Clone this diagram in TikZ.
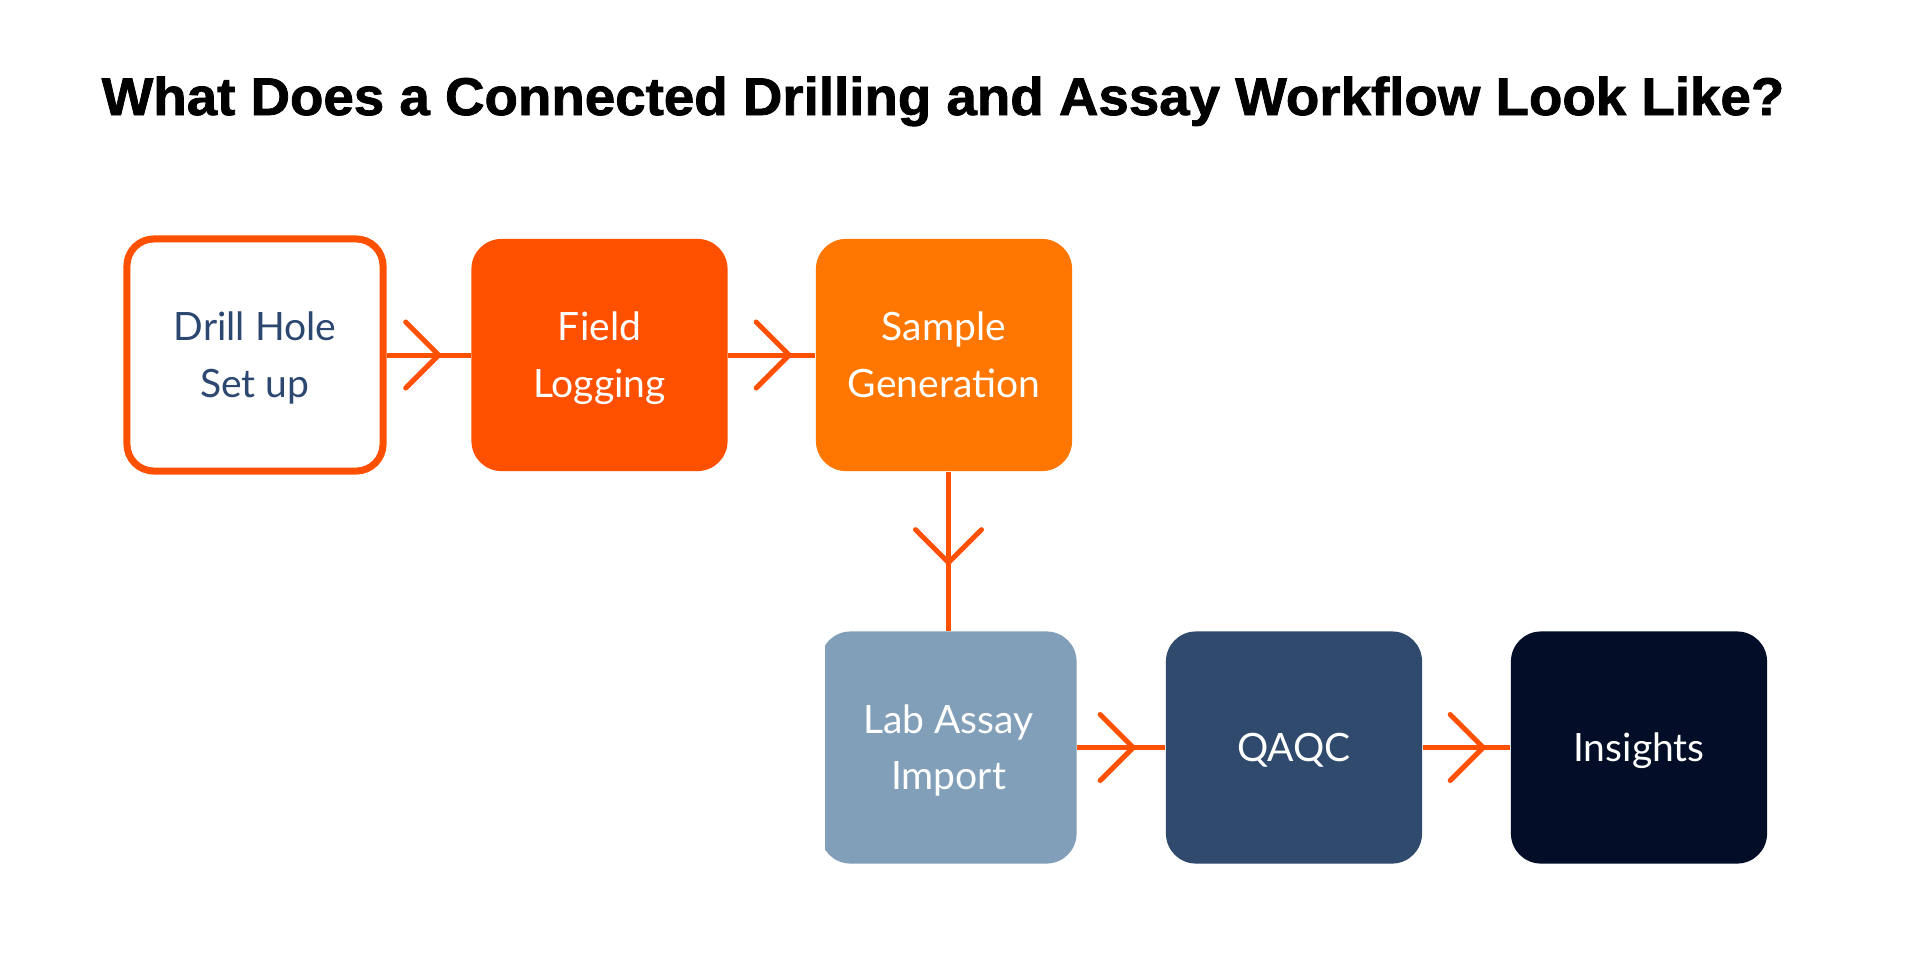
\documentclass[tikz,border=0pt]{standalone}
\usepackage{fontspec}
\setmainfont{Lato}
\newfontfamily\titlefont[BoldFeatures={FakeBold=1.5}]{Liberation Sans}
\usetikzlibrary{decorations.markings}

\definecolor{brandorange}{HTML}{FF5000}
\definecolor{amber}{HTML}{FF7700}
\definecolor{steel}{HTML}{819FB8}
\definecolor{navy}{HTML}{2F4A6D}
\definecolor{ink}{HTML}{020D27}
\definecolor{labeltext}{HTML}{2C4770}

% invisible strut: keeps each label line centred on its capital letters
\newcommand\capstrut{\rule[-0.25em]{0pt}{1.2165em}}

\begin{document}
\begin{tikzpicture}[x=0.01cm, y=-0.01cm,
  box/.style={rectangle, rounded corners=3mm, minimum width=2.56cm,
    minimum height=2.32cm, inner sep=0pt, align=center, text=white,
    font=\fontsize{11.1}{16.2}\selectfont},
  flow/.style={draw=brandorange, line width=0.05cm},
  tipat/.style={postaction={decorate, decoration={markings,
    mark=at position -#1 with {\draw[brandorange, line width=0.05cm,
      line cap=round, line join=round]
      (-0.33cm,0.33cm) -- (0,0) -- (-0.33cm,-0.33cm);}}}}
]
\useasboundingbox (0,0) rectangle (1920,960);
\fill[white] (0,0) rectangle (1920,960);

% heading
\node[anchor=base west, inner sep=0pt,
  font=\titlefont\bfseries\fontsize{15.1}{18}\selectfont] (title)
  at (101,115) {\scalebox{1.03}[1]{What Does a Connected Drilling and Assay Workflow Look Like?}};

% upper row
\node[box, draw=brandorange, line width=0.07cm, fill=white, text=labeltext,
  rounded corners=2.7mm] (drill) at (255,355)
  {\capstrut Drill Hole\\\capstrut Set up};
\node[box, fill=brandorange] (field) at (599.5,355)
  {\capstrut Field\\\capstrut Logging};
\node[box, fill=amber] (sample) at (944,355)
  {\capstrut Sample\\\capstrut Generation};

% lower row
\begin{scope}
  \clip (825,600) rectangle (1100,900);
  \node[box, fill=steel] (lab) at (948.5,747.5)
    {\capstrut Lab Assay\\\capstrut Import};
\end{scope}
\node[box, fill=navy] (qaqc) at (1294,747.5) {\capstrut QAQC};
\node[box, fill=ink] (insights) at (1639,747.5) {\capstrut Insights};

% connectors
\draw[flow, tipat=0.32cm] (drill.east) -- (field.west);
\draw[flow, tipat=0.26cm] (field.east) -- (sample.west);
\draw[flow, tipat=0.68cm] (lab.north |- sample.south) -- (lab.north);
\draw[flow, tipat=0.32cm] (lab.east) -- (qaqc.west);
\draw[flow, tipat=0.27cm] (qaqc.east) -- (insights.west);
\end{tikzpicture}
\end{document}
